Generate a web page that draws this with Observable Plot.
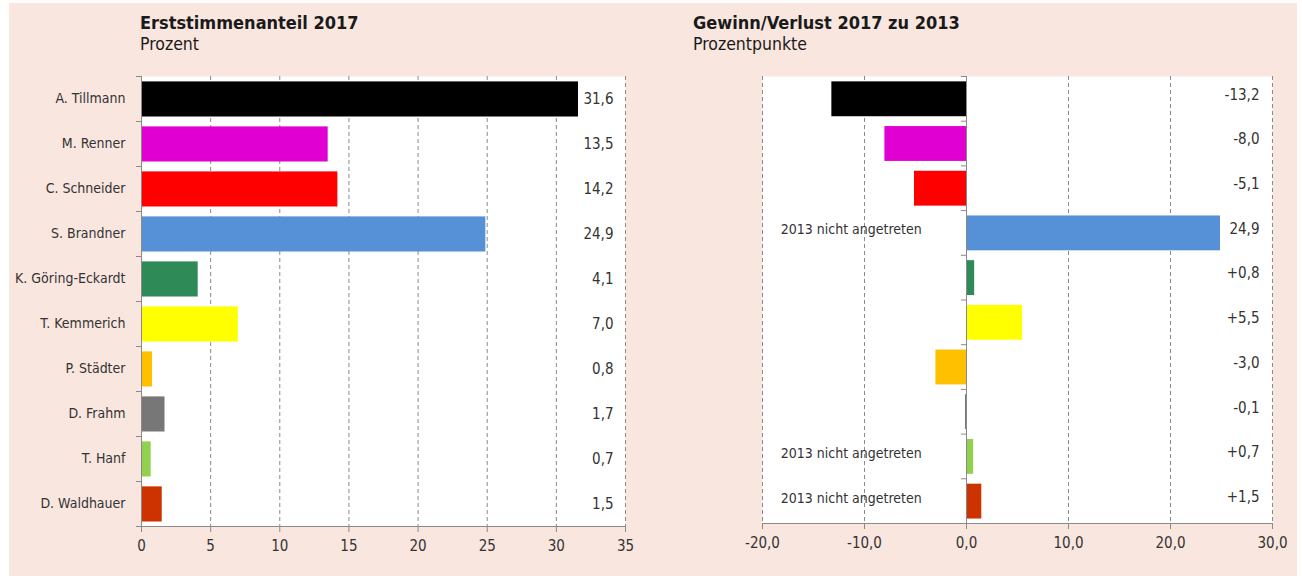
<!DOCTYPE html>
<html>
<head>
<meta charset="utf-8">
<script src="https://cdn.jsdelivr.net/npm/d3@7"></script>
<script src="https://cdn.jsdelivr.net/npm/@observablehq/plot@0.6"></script>
<style>
  html, body { margin: 0; padding: 0; background: #ffffff; }
  #wrap { position: relative; width: 1302px; height: 576px; overflow: hidden; font-family: "DejaVu Sans Condensed", "Liberation Sans Narrow", "Roboto", sans-serif; color: #222; }
  #panel { position: absolute; left: 9px; top: 3px; width: 1288px; height: 573px; background: #f9e6df; }
  .title { position: absolute; font-size: 18px; font-weight: bold; color: #1a1a1a; white-space: nowrap; }
  .sub { position: absolute; font-size: 17.5px; color: #1a1a1a; white-space: nowrap; }
  .chart { position: absolute; top: 0; }
</style>
</head>
<body>
<div id="wrap">
  <div id="panel"></div>
  <div class="title" style="left:140px; top:12px;">Erststimmenanteil 2017</div>
  <div class="sub" style="left:140px; top:34px;">Prozent</div>
  <div class="title" style="left:693px; top:12px;">Gewinn/Verlust 2017 zu 2013</div>
  <div class="sub" style="left:693px; top:34px;">Prozentpunkte</div>
  <div class="chart" id="left" style="left:0px;"></div>
  <div class="chart" id="right" style="left:660px;"></div>
</div>
<script>
const candidates = ["A. Tillmann", "M. Renner", "C. Schneider", "S. Brandner", "K. Göring-Eckardt", "T. Kemmerich", "P. Städter", "D. Frahm", "T. Hanf", "D. Waldhauer"];
const share2017 = [31.6, 13.5, 14.2, 24.9, 4.1, 7.0, 0.8, 1.7, 0.7, 1.5];
const change = [-13.2, -8.0, -5.1, 24.9, 0.8, 5.5, -3.0, -0.1, 0.7, 1.5];
const changeLabels = ["-13,2", "-8,0", "-5,1", "24,9", "+0,8", "+5,5", "-3,0", "-0,1", "+0,7", "+1,5"];
const notRun2013 = [false, false, false, true, false, false, false, false, true, true];
const barColors = ["#000000", "#e000d2", "#ff0000", "#5690d6", "#2e8a56", "#ffff00", "#ffc000", "#777777", "#92d050", "#cc3300"];
const leftTicks = [0, 5, 10, 15, 20, 25, 30, 35];
const rightTicks = [-20, -10, 0, 10, 20, 30];
const noteText = "2013 nicht angetreten";
const notePos = -11.3;

const de = d3.formatLocale({decimal: ",", thousands: ".", grouping: [3], currency: ["", " €"], minus: "-"});
const fmt1 = de.format(".1f");

const rows = candidates.map((name, i) => ({i, name, v: share2017[i], c: change[i], cl: changeLabels[i], color: barColors[i], note: notRun2013[i]}));
const bounds = d3.range(0, candidates.length + 1);
const centers = candidates.map((_, i) => i + 0.5);
const FONT = '"DejaVu Sans Condensed", "Liberation Sans Narrow", "Roboto", sans-serif';
const GRID = "#8a8a8a";
const TXT = "#333";

const left = Plot.plot({
  width: 660, height: 576,
  marginLeft: 141, marginRight: 35, marginTop: 76, marginBottom: 50,
  style: {background: "transparent", fontFamily: FONT, fontSize: "14px", color: TXT},
  x: {domain: [0, 35], label: null},
  y: {domain: [0, candidates.length], reverse: true, label: null},
  marks: [
    Plot.frame({fill: "white", stroke: null}),
    Plot.gridX({ticks: leftTicks.slice(1), stroke: GRID, strokeOpacity: 1, strokeDasharray: "4,3"}),
    Plot.rectX(rows, {x1: 0, x2: "v", y1: d => d.i + 0.12, y2: d => d.i + 0.9, fill: "color"}),
    Plot.ruleX([0], {stroke: GRID}),
    Plot.ruleY([candidates.length], {stroke: GRID}),
    Plot.axisY({ticks: bounds, tickSize: 5, tickFormat: () => "", stroke: GRID}),
    Plot.axisY({ticks: centers, tickSize: 0, tickPadding: 16, tickFormat: c => candidates[Math.floor(c)], fill: TXT, fontSize: 14}),
    Plot.axisX({ticks: leftTicks, tickSize: 6, tickPadding: 8, tickFormat: d3.format("d"), stroke: GRID, fill: TXT, fontSize: 15}),
    Plot.text(rows, {y: d => d.i + 0.5, text: d => fmt1(d.v), frameAnchor: "right", dx: -12, textAnchor: "end", fill: TXT, fontSize: 15})
  ]
});
document.getElementById("left").appendChild(left);

const right = Plot.plot({
  width: 642, height: 576,
  marginLeft: 102, marginRight: 30, marginTop: 76, marginBottom: 53,
  style: {background: "transparent", fontFamily: FONT, fontSize: "15px", color: TXT},
  x: {domain: [-20, 30], label: null},
  y: {domain: [0, candidates.length], reverse: true, label: null, axis: null},
  marks: [
    Plot.frame({fill: "white", stroke: null}),
    Plot.gridX({ticks: rightTicks.filter(t => t !== 0), stroke: GRID, strokeOpacity: 1, strokeDasharray: "4,3"}),
    Plot.rectX(rows, {x1: 0, x2: "c", y1: d => d.i + 0.12, y2: d => d.i + 0.9, fill: "color"}),
    Plot.ruleX([0], {stroke: GRID}),
    Plot.ruleY(bounds, {y: d => d, x1: -0.5, x2: 0, stroke: GRID}),
    Plot.ruleY([candidates.length], {stroke: GRID}),
    Plot.axisX({ticks: rightTicks, tickSize: 6, tickPadding: 8, tickFormat: fmt1, stroke: GRID, fill: TXT, fontSize: 15}),
    Plot.text(rows, {y: d => d.i + 0.5, text: "cl", frameAnchor: "right", dx: -13, dy: -4, textAnchor: "end", fill: TXT, fontSize: 15}),
    Plot.text(rows.filter(d => d.note), {x: notePos, y: d => d.i + 0.5, text: () => noteText, dy: -3, fill: TXT, fontSize: 14})
  ]
});
document.getElementById("right").appendChild(right);
</script>
</body>
</html>
